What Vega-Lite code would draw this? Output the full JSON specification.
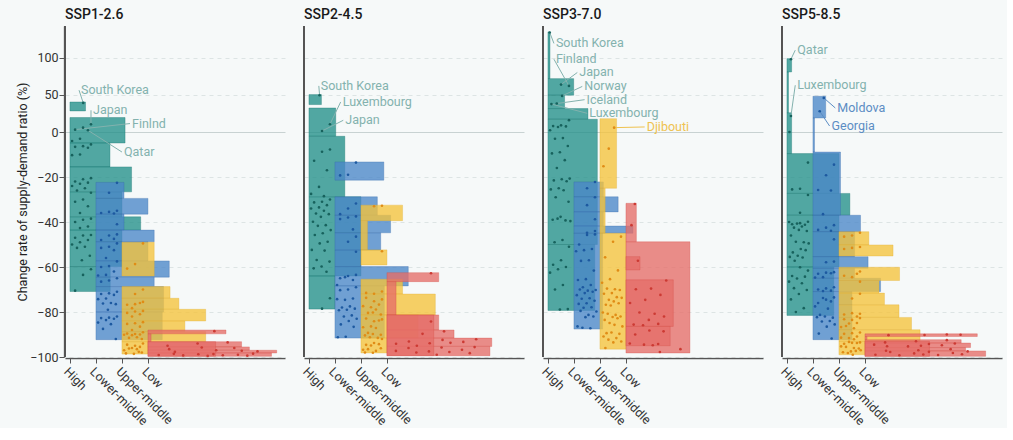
{
  "$schema": "https://vega.github.io/schema/vega-lite/v6.json",
  "background": "#f6f9f9",
  "padding": {"left": 16, "top": 8, "right": 5, "bottom": 0},
  "config": {"font": "Roboto", "view": {"stroke": null}},
  "data": {"values": [
    {"s":"SSP1-2.6","g":"High","b":1,"lo":28.4,"hi":40.5,"n":0.6},
    {"s":"SSP1-2.6","g":"High","b":2,"lo":-4.9,"hi":19.5,"n":2.12},
    {"s":"SSP1-2.6","g":"High","b":3,"lo":-15.5,"hi":-4.9,"n":1.54},
    {"s":"SSP1-2.6","g":"High","b":4,"lo":-26.6,"hi":-15.5,"n":2.37},
    {"s":"SSP1-2.6","g":"High","b":5,"lo":-37.7,"hi":-26.6,"n":2.0},
    {"s":"SSP1-2.6","g":"High","b":6,"lo":-43.6,"hi":-37.7,"n":2.72},
    {"s":"SSP1-2.6","g":"High","b":7,"lo":-59.8,"hi":-43.6,"n":2.0},
    {"s":"SSP1-2.6","g":"High","b":8,"lo":-70.9,"hi":-59.8,"n":1.55},
    {"s":"SSP1-2.6","g":"Lower-middle","b":1,"lo":-29.5,"hi":-22.4,"n":1.08},
    {"s":"SSP1-2.6","g":"Lower-middle","b":2,"lo":-36.5,"hi":-29.5,"n":2.0},
    {"s":"SSP1-2.6","g":"Lower-middle","b":3,"lo":-43.6,"hi":-36.5,"n":1.08},
    {"s":"SSP1-2.6","g":"Lower-middle","b":4,"lo":-48.8,"hi":-43.6,"n":2.24},
    {"s":"SSP1-2.6","g":"Lower-middle","b":5,"lo":-57.3,"hi":-48.8,"n":2.0},
    {"s":"SSP1-2.6","g":"Lower-middle","b":6,"lo":-64.5,"hi":-57.3,"n":2.82},
    {"s":"SSP1-2.6","g":"Lower-middle","b":7,"lo":-68.7,"hi":-64.5,"n":2.24},
    {"s":"SSP1-2.6","g":"Lower-middle","b":8,"lo":-80,"hi":-68.7,"n":2.6},
    {"s":"SSP1-2.6","g":"Lower-middle","b":9,"lo":-92.3,"hi":-80,"n":2.55},
    {"s":"SSP1-2.6","g":"Upper-middle","b":1,"lo":-64,"hi":-49,"n":1.24},
    {"s":"SSP1-2.6","g":"Upper-middle","b":2,"lo":-73.9,"hi":-68.7,"n":1.85},
    {"s":"SSP1-2.6","g":"Upper-middle","b":3,"lo":-78.8,"hi":-73.9,"n":2.19},
    {"s":"SSP1-2.6","g":"Upper-middle","b":4,"lo":-84,"hi":-78.8,"n":3.22},
    {"s":"SSP1-2.6","g":"Upper-middle","b":5,"lo":-88.7,"hi":-84,"n":2.42},
    {"s":"SSP1-2.6","g":"Upper-middle","b":6,"lo":-93.2,"hi":-88.7,"n":3.22},
    {"s":"SSP1-2.6","g":"Upper-middle","b":7,"lo":-98.7,"hi":-93.2,"n":1.0},
    {"s":"SSP1-2.6","g":"Low","b":1,"lo":-89.7,"hi":-88,"n":3.0},
    {"s":"SSP1-2.6","g":"Low","b":2,"lo":-93.2,"hi":-89.7,"n":0.12},
    {"s":"SSP1-2.6","g":"Low","b":3,"lo":-95.5,"hi":-93.2,"n":3.6},
    {"s":"SSP1-2.6","g":"Low","b":4,"lo":-97,"hi":-95.5,"n":3.9},
    {"s":"SSP1-2.6","g":"Low","b":5,"lo":-98.2,"hi":-97,"n":4.95},
    {"s":"SSP1-2.6","g":"Low","b":6,"lo":-99.7,"hi":-98.2,"n":4.75},
    {"s":"SSP1-2.6","g":"Low","b":7,"lo":-99.7,"hi":-93.2,"n":2.6},
    {"s":"SSP2-4.5","g":"High","b":1,"lo":37,"hi":50.5,"n":0.48},
    {"s":"SSP2-4.5","g":"High","b":2,"lo":-1.9,"hi":32.4,"n":1.03},
    {"s":"SSP2-4.5","g":"High","b":3,"lo":-28.8,"hi":-1.9,"n":1.38},
    {"s":"SSP2-4.5","g":"High","b":4,"lo":-64,"hi":-28.8,"n":2.0},
    {"s":"SSP2-4.5","g":"High","b":5,"lo":-78.7,"hi":-64,"n":1.0},
    {"s":"SSP2-4.5","g":"Lower-middle","b":1,"lo":-21.4,"hi":-13.3,"n":1.88},
    {"s":"SSP2-4.5","g":"Lower-middle","b":2,"lo":-37,"hi":-28.8,"n":1.63},
    {"s":"SSP2-4.5","g":"Lower-middle","b":3,"lo":-44.8,"hi":-37,"n":2.14},
    {"s":"SSP2-4.5","g":"Lower-middle","b":4,"lo":-52.5,"hi":-44.8,"n":1.76},
    {"s":"SSP2-4.5","g":"Lower-middle","b":5,"lo":-59.8,"hi":-52.5,"n":1.0},
    {"s":"SSP2-4.5","g":"Lower-middle","b":6,"lo":-68.4,"hi":-59.8,"n":2.82},
    {"s":"SSP2-4.5","g":"Lower-middle","b":7,"lo":-91.6,"hi":-68.4,"n":1.9},
    {"s":"SSP2-4.5","g":"Upper-middle","b":1,"lo":-39.4,"hi":-32.5,"n":1.6},
    {"s":"SSP2-4.5","g":"Upper-middle","b":2,"lo":-52.4,"hi":-39.4,"n":0.25},
    {"s":"SSP2-4.5","g":"Upper-middle","b":3,"lo":-59.1,"hi":-52.4,"n":1.0},
    {"s":"SSP2-4.5","g":"Upper-middle","b":4,"lo":-72,"hi":-65.4,"n":1.6},
    {"s":"SSP2-4.5","g":"Upper-middle","b":5,"lo":-81.3,"hi":-72,"n":2.86},
    {"s":"SSP2-4.5","g":"Upper-middle","b":6,"lo":-91.6,"hi":-81.3,"n":2.2},
    {"s":"SSP2-4.5","g":"Upper-middle","b":7,"lo":-98.2,"hi":-91.6,"n":1.0},
    {"s":"SSP2-4.5","g":"Low","b":1,"lo":-66.5,"hi":-62.5,"n":1.99},
    {"s":"SSP2-4.5","g":"Low","b":2,"lo":-81.3,"hi":-66.5,"n":0.35},
    {"s":"SSP2-4.5","g":"Low","b":3,"lo":-88,"hi":-81.3,"n":1.99},
    {"s":"SSP2-4.5","g":"Low","b":4,"lo":-91.6,"hi":-88,"n":2.58},
    {"s":"SSP2-4.5","g":"Low","b":5,"lo":-95.3,"hi":-91.6,"n":4.03},
    {"s":"SSP2-4.5","g":"Low","b":6,"lo":-99.4,"hi":-95.3,"n":3.96},
    {"s":"SSP2-4.5","g":"Low","b":7,"lo":-99.4,"hi":-81.3,"n":1.8},
    {"s":"SSP3-7.0","g":"High","b":1,"lo":72,"hi":135,"n":0.08},
    {"s":"SSP3-7.0","g":"High","b":2,"lo":49.6,"hi":72,"n":0.99},
    {"s":"SSP3-7.0","g":"High","b":3,"lo":31.6,"hi":49.6,"n":0.64},
    {"s":"SSP3-7.0","g":"High","b":4,"lo":17.2,"hi":31.6,"n":1.54},
    {"s":"SSP3-7.0","g":"High","b":5,"lo":-50,"hi":17.2,"n":1.9},
    {"s":"SSP3-7.0","g":"High","b":6,"lo":-79.3,"hi":-50,"n":1.8},
    {"s":"SSP3-7.0","g":"Lower-middle","b":1,"lo":-28.8,"hi":-22.2,"n":1.13},
    {"s":"SSP3-7.0","g":"Lower-middle","b":2,"lo":-35.5,"hi":-28.8,"n":1.7},
    {"s":"SSP3-7.0","g":"Lower-middle","b":3,"lo":-41.8,"hi":-35.5,"n":1.13},
    {"s":"SSP3-7.0","g":"Lower-middle","b":4,"lo":-45,"hi":-41.8,"n":2.27},
    {"s":"SSP3-7.0","g":"Lower-middle","b":5,"lo":-87.6,"hi":-45,"n":1.1},
    {"s":"SSP3-7.0","g":"Upper-middle","b":1,"lo":-25,"hi":18,"n":0.64},
    {"s":"SSP3-7.0","g":"Upper-middle","b":2,"lo":-45,"hi":-25,"n":0.2},
    {"s":"SSP3-7.0","g":"Upper-middle","b":3,"lo":-96.5,"hi":-45,"n":1.0},
    {"s":"SSP3-7.0","g":"Low","b":1,"lo":-48.8,"hi":-31.7,"n":0.4},
    {"s":"SSP3-7.0","g":"Low","b":2,"lo":-98.2,"hi":-48.8,"n":2.46},
    {"s":"SSP3-7.0","g":"Low","b":3,"lo":-61.3,"hi":-55.4,"n":0.54},
    {"s":"SSP3-7.0","g":"Low","b":4,"lo":-86.4,"hi":-65.7,"n":1.82},
    {"s":"SSP3-7.0","g":"Low","b":5,"lo":-95,"hi":-86.4,"n":1.7},
    {"s":"SSP5-8.5","g":"High","b":1,"lo":81,"hi":99,"n":0.18},
    {"s":"SSP5-8.5","g":"High","b":2,"lo":26,"hi":81,"n":0.06},
    {"s":"SSP5-8.5","g":"High","b":3,"lo":-9.6,"hi":26,"n":0.18},
    {"s":"SSP5-8.5","g":"High","b":4,"lo":-27.3,"hi":-9.6,"n":2.0},
    {"s":"SSP5-8.5","g":"High","b":5,"lo":-37,"hi":-27.3,"n":2.42},
    {"s":"SSP5-8.5","g":"High","b":6,"lo":-60,"hi":-37,"n":2.0},
    {"s":"SSP5-8.5","g":"High","b":7,"lo":-81.5,"hi":-60,"n":1.8},
    {"s":"SSP5-8.5","g":"Lower-middle","b":1,"lo":18.9,"hi":48.2,"n":0.49},
    {"s":"SSP5-8.5","g":"Lower-middle","b":2,"lo":-8.9,"hi":18.9,"n":0.06},
    {"s":"SSP5-8.5","g":"Lower-middle","b":3,"lo":-37,"hi":-8.9,"n":1.06},
    {"s":"SSP5-8.5","g":"Lower-middle","b":4,"lo":-44.3,"hi":-37,"n":1.83},
    {"s":"SSP5-8.5","g":"Lower-middle","b":5,"lo":-55.4,"hi":-44.3,"n":1.6},
    {"s":"SSP5-8.5","g":"Lower-middle","b":6,"lo":-60.6,"hi":-55.4,"n":2.12},
    {"s":"SSP5-8.5","g":"Lower-middle","b":7,"lo":-65,"hi":-60.6,"n":1.6},
    {"s":"SSP5-8.5","g":"Lower-middle","b":8,"lo":-70.9,"hi":-65,"n":2.6},
    {"s":"SSP5-8.5","g":"Lower-middle","b":9,"lo":-92.3,"hi":-70.9,"n":1.5},
    {"s":"SSP5-8.5","g":"Upper-middle","b":1,"lo":-50.2,"hi":-44.3,"n":1.15},
    {"s":"SSP5-8.5","g":"Upper-middle","b":2,"lo":-55.1,"hi":-50.2,"n":2.08},
    {"s":"SSP5-8.5","g":"Upper-middle","b":3,"lo":-66,"hi":-60.1,"n":2.33},
    {"s":"SSP5-8.5","g":"Upper-middle","b":4,"lo":-71.6,"hi":-66,"n":1.54},
    {"s":"SSP5-8.5","g":"Upper-middle","b":5,"lo":-76.8,"hi":-71.6,"n":1.75},
    {"s":"SSP5-8.5","g":"Upper-middle","b":6,"lo":-82.4,"hi":-76.8,"n":2.31},
    {"s":"SSP5-8.5","g":"Upper-middle","b":7,"lo":-87.9,"hi":-82.4,"n":2.79},
    {"s":"SSP5-8.5","g":"Upper-middle","b":8,"lo":-93.1,"hi":-87.9,"n":3.12},
    {"s":"SSP5-8.5","g":"Upper-middle","b":9,"lo":-99,"hi":-93.1,"n":1.0},
    {"s":"SSP5-8.5","g":"Low","b":1,"lo":-90.9,"hi":-89.7,"n":4.32},
    {"s":"SSP5-8.5","g":"Low","b":2,"lo":-92.3,"hi":-90.9,"n":0.08},
    {"s":"SSP5-8.5","g":"Low","b":3,"lo":-93.8,"hi":-92.3,"n":3.7},
    {"s":"SSP5-8.5","g":"Low","b":4,"lo":-95.8,"hi":-93.8,"n":4.06},
    {"s":"SSP5-8.5","g":"Low","b":5,"lo":-97.3,"hi":-95.8,"n":3.87},
    {"s":"SSP5-8.5","g":"Low","b":6,"lo":-99.7,"hi":-97.3,"n":4.64},
    {"s":"SSP5-8.5","g":"Low","b":7,"lo":-99.7,"hi":-93,"n":2.48},

    {"s":"SSP1-2.6","g":"High","b":1,"v":39.2,"c":"South Korea","lx":0.35,"lv":56.4},
    {"s":"SSP1-2.6","g":"High","b":2,"v":10.3,"c":"Japan","lx":0.81,"lv":29.3},
    {"s":"SSP1-2.6","g":"High","b":2,"v":5.9},
    {"s":"SSP1-2.6","g":"High","b":2,"v":3.2,"c":"Finlnd","lx":2.31,"lv":11.4},
    {"s":"SSP1-2.6","g":"High","b":2,"v":2.3,"c":"Qatar","lx":2.0,"lv":-8.9},
    {"s":"SSP1-2.6","g":"High","b":2,"v":-3},
    {"s":"SSP1-2.6","g":"High","b":2,"v":-4},
    {"s":"SSP1-2.6","g":"High","b":3,"v":-5.5},
    {"s":"SSP1-2.6","g":"High","b":3,"v":-6.3},
    {"s":"SSP1-2.6","g":"High","b":3,"v":-6.6},
    {"s":"SSP1-2.6","g":"High","b":3,"v":-7},
    {"s":"SSP1-2.6","g":"High","b":3,"v":-10},
    {"s":"SSP1-2.6","g":"High","b":3,"v":-10.3},
    {"s":"SSP1-2.6","g":"High","b":4,"v":-20.5},
    {"s":"SSP1-2.6","g":"High","b":4,"v":-21},
    {"s":"SSP1-2.6","g":"High","b":4,"v":-22},
    {"s":"SSP1-2.6","g":"High","b":4,"v":-22.5},
    {"s":"SSP1-2.6","g":"High","b":4,"v":-23},
    {"s":"SSP1-2.6","g":"High","b":4,"v":-24},
    {"s":"SSP1-2.6","g":"High","b":4,"v":-25},
    {"s":"SSP1-2.6","g":"High","b":4,"v":-26},
    {"s":"SSP1-2.6","g":"High","b":5,"v":-27},
    {"s":"SSP1-2.6","g":"High","b":5,"v":-30},
    {"s":"SSP1-2.6","g":"High","b":5,"v":-31},
    {"s":"SSP1-2.6","g":"High","b":5,"v":-33},
    {"s":"SSP1-2.6","g":"High","b":5,"v":-36},
    {"s":"SSP1-2.6","g":"High","b":6,"v":-38.5},
    {"s":"SSP1-2.6","g":"High","b":6,"v":-39},
    {"s":"SSP1-2.6","g":"High","b":6,"v":-40},
    {"s":"SSP1-2.6","g":"High","b":6,"v":-42},
    {"s":"SSP1-2.6","g":"High","b":6,"v":-42.7},
    {"s":"SSP1-2.6","g":"High","b":7,"v":-45.8},
    {"s":"SSP1-2.6","g":"High","b":7,"v":-46},
    {"s":"SSP1-2.6","g":"High","b":7,"v":-47},
    {"s":"SSP1-2.6","g":"High","b":7,"v":-48},
    {"s":"SSP1-2.6","g":"High","b":7,"v":-49},
    {"s":"SSP1-2.6","g":"High","b":7,"v":-50},
    {"s":"SSP1-2.6","g":"High","b":7,"v":-51},
    {"s":"SSP1-2.6","g":"High","b":7,"v":-51.5},
    {"s":"SSP1-2.6","g":"High","b":7,"v":-55},
    {"s":"SSP1-2.6","g":"High","b":7,"v":-57},
    {"s":"SSP1-2.6","g":"High","b":8,"v":-61},
    {"s":"SSP1-2.6","g":"High","b":8,"v":-63.5},
    {"s":"SSP1-2.6","g":"High","b":8,"v":-70.5},
    {"s":"SSP1-2.6","g":"Lower-middle","b":1,"v":-22.6},
    {"s":"SSP1-2.6","g":"Lower-middle","b":1,"v":-27},
    {"s":"SSP1-2.6","g":"Lower-middle","b":2,"v":-35},
    {"s":"SSP1-2.6","g":"Lower-middle","b":2,"v":-35.5},
    {"s":"SSP1-2.6","g":"Lower-middle","b":2,"v":-36},
    {"s":"SSP1-2.6","g":"Lower-middle","b":2,"v":-36.2},
    {"s":"SSP1-2.6","g":"Lower-middle","b":3,"v":-41},
    {"s":"SSP1-2.6","g":"Lower-middle","b":4,"v":-45.5},
    {"s":"SSP1-2.6","g":"Lower-middle","b":4,"v":-46},
    {"s":"SSP1-2.6","g":"Lower-middle","b":4,"v":-48},
    {"s":"SSP1-2.6","g":"Lower-middle","b":4,"v":-47.5},
    {"s":"SSP1-2.6","g":"Lower-middle","b":5,"v":-49.5},
    {"s":"SSP1-2.6","g":"Lower-middle","b":5,"v":-51},
    {"s":"SSP1-2.6","g":"Lower-middle","b":5,"v":-51.5},
    {"s":"SSP1-2.6","g":"Lower-middle","b":5,"v":-52.5},
    {"s":"SSP1-2.6","g":"Lower-middle","b":5,"v":-56},
    {"s":"SSP1-2.6","g":"Lower-middle","b":6,"v":-57.5},
    {"s":"SSP1-2.6","g":"Lower-middle","b":6,"v":-59.6},
    {"s":"SSP1-2.6","g":"Lower-middle","b":6,"v":-60},
    {"s":"SSP1-2.6","g":"Lower-middle","b":6,"v":-62},
    {"s":"SSP1-2.6","g":"Lower-middle","b":6,"v":-63.5},
    {"s":"SSP1-2.6","g":"Lower-middle","b":6,"v":-63.8},
    {"s":"SSP1-2.6","g":"Lower-middle","b":7,"v":-65},
    {"s":"SSP1-2.6","g":"Lower-middle","b":7,"v":-66},
    {"s":"SSP1-2.6","g":"Lower-middle","b":7,"v":-66.5},
    {"s":"SSP1-2.6","g":"Lower-middle","b":8,"v":-71},
    {"s":"SSP1-2.6","g":"Lower-middle","b":8,"v":-71.7},
    {"s":"SSP1-2.6","g":"Lower-middle","b":8,"v":-72},
    {"s":"SSP1-2.6","g":"Lower-middle","b":8,"v":-72.4},
    {"s":"SSP1-2.6","g":"Lower-middle","b":8,"v":-74},
    {"s":"SSP1-2.6","g":"Lower-middle","b":8,"v":-74.3},
    {"s":"SSP1-2.6","g":"Lower-middle","b":8,"v":-76},
    {"s":"SSP1-2.6","g":"Lower-middle","b":8,"v":-76.2},
    {"s":"SSP1-2.6","g":"Lower-middle","b":8,"v":-76.5},
    {"s":"SSP1-2.6","g":"Lower-middle","b":8,"v":-79},
    {"s":"SSP1-2.6","g":"Lower-middle","b":9,"v":-82},
    {"s":"SSP1-2.6","g":"Lower-middle","b":9,"v":-82.5},
    {"s":"SSP1-2.6","g":"Lower-middle","b":9,"v":-82.7},
    {"s":"SSP1-2.6","g":"Lower-middle","b":9,"v":-83},
    {"s":"SSP1-2.6","g":"Lower-middle","b":9,"v":-83.6},
    {"s":"SSP1-2.6","g":"Lower-middle","b":9,"v":-84.7},
    {"s":"SSP1-2.6","g":"Lower-middle","b":9,"v":-85.4},
    {"s":"SSP1-2.6","g":"Lower-middle","b":9,"v":-87.5},
    {"s":"SSP1-2.6","g":"Lower-middle","b":9,"v":-92},
    {"s":"SSP1-2.6","g":"Upper-middle","b":1,"v":-49.5},
    {"s":"SSP1-2.6","g":"Upper-middle","b":1,"v":-58.7},
    {"s":"SSP1-2.6","g":"Upper-middle","b":1,"v":-60.7},
    {"s":"SSP1-2.6","g":"Upper-middle","b":2,"v":-70},
    {"s":"SSP1-2.6","g":"Upper-middle","b":2,"v":-72},
    {"s":"SSP1-2.6","g":"Upper-middle","b":3,"v":-75.5},
    {"s":"SSP1-2.6","g":"Upper-middle","b":3,"v":-76.5},
    {"s":"SSP1-2.6","g":"Upper-middle","b":3,"v":-76.8},
    {"s":"SSP1-2.6","g":"Upper-middle","b":3,"v":-76},
    {"s":"SSP1-2.6","g":"Upper-middle","b":3,"v":-78.3},
    {"s":"SSP1-2.6","g":"Upper-middle","b":4,"v":-79.5},
    {"s":"SSP1-2.6","g":"Upper-middle","b":4,"v":-79.8},
    {"s":"SSP1-2.6","g":"Upper-middle","b":4,"v":-80.4},
    {"s":"SSP1-2.6","g":"Upper-middle","b":4,"v":-81},
    {"s":"SSP1-2.6","g":"Upper-middle","b":4,"v":-82},
    {"s":"SSP1-2.6","g":"Upper-middle","b":5,"v":-84.5},
    {"s":"SSP1-2.6","g":"Upper-middle","b":5,"v":-85},
    {"s":"SSP1-2.6","g":"Upper-middle","b":5,"v":-85.3},
    {"s":"SSP1-2.6","g":"Upper-middle","b":5,"v":-86.5},
    {"s":"SSP1-2.6","g":"Upper-middle","b":5,"v":-88},
    {"s":"SSP1-2.6","g":"Upper-middle","b":6,"v":-89},
    {"s":"SSP1-2.6","g":"Upper-middle","b":6,"v":-89.8},
    {"s":"SSP1-2.6","g":"Upper-middle","b":6,"v":-89.6},
    {"s":"SSP1-2.6","g":"Upper-middle","b":6,"v":-90},
    {"s":"SSP1-2.6","g":"Upper-middle","b":6,"v":-90.3},
    {"s":"SSP1-2.6","g":"Upper-middle","b":6,"v":-90.1},
    {"s":"SSP1-2.6","g":"Upper-middle","b":6,"v":-91.2},
    {"s":"SSP1-2.6","g":"Upper-middle","b":6,"v":-91.5},
    {"s":"SSP1-2.6","g":"Upper-middle","b":6,"v":-92},
    {"s":"SSP1-2.6","g":"Upper-middle","b":7,"v":-94},
    {"s":"SSP1-2.6","g":"Upper-middle","b":7,"v":-95},
    {"s":"SSP1-2.6","g":"Upper-middle","b":7,"v":-94.5},
    {"s":"SSP1-2.6","g":"Upper-middle","b":7,"v":-95.5},
    {"s":"SSP1-2.6","g":"Upper-middle","b":7,"v":-96},
    {"s":"SSP1-2.6","g":"Upper-middle","b":7,"v":-97},
    {"s":"SSP1-2.6","g":"Upper-middle","b":7,"v":-96.5},
    {"s":"SSP1-2.6","g":"Upper-middle","b":7,"v":-96.2},
    {"s":"SSP1-2.6","g":"Upper-middle","b":7,"v":-98},
    {"s":"SSP1-2.6","g":"Upper-middle","b":7,"v":-98.6},
    {"s":"SSP1-2.6","g":"Upper-middle","b":7,"v":-98.4},
    {"s":"SSP1-2.6","g":"Upper-middle","b":7,"v":-97.7},
    {"s":"SSP1-2.6","g":"Low","b":1,"v":-88.5},
    {"s":"SSP1-2.6","g":"Low","b":3,"v":-93.5},
    {"s":"SSP1-2.6","g":"Low","b":3,"v":-94},
    {"s":"SSP1-2.6","g":"Low","b":3,"v":-95},
    {"s":"SSP1-2.6","g":"Low","b":4,"v":-96},
    {"s":"SSP1-2.6","g":"Low","b":4,"v":-95.8},
    {"s":"SSP1-2.6","g":"Low","b":4,"v":-96.5},
    {"s":"SSP1-2.6","g":"Low","b":5,"v":-97.5},
    {"s":"SSP1-2.6","g":"Low","b":5,"v":-97},
    {"s":"SSP1-2.6","g":"Low","b":5,"v":-97.7},
    {"s":"SSP1-2.6","g":"Low","b":5,"v":-97.2},
    {"s":"SSP1-2.6","g":"Low","b":6,"v":-98.5},
    {"s":"SSP1-2.6","g":"Low","b":6,"v":-98.7},
    {"s":"SSP1-2.6","g":"Low","b":6,"v":-98.6},
    {"s":"SSP1-2.6","g":"Low","b":6,"v":-99},
    {"s":"SSP1-2.6","g":"Low","b":6,"v":-98.8},
    {"s":"SSP1-2.6","g":"Low","b":6,"v":-99.1},
    {"s":"SSP1-2.6","g":"Low","b":6,"v":-99.2},
    {"s":"SSP1-2.6","g":"Low","b":6,"v":-99.3},
    {"s":"SSP1-2.6","g":"Low","b":6,"v":-99.4},
    {"s":"SSP1-2.6","g":"Low","b":6,"v":-99.5},

    {"s":"SSP2-4.5","g":"High","b":1,"v":49.6,"c":"South Korea","lx":0.38,"lv":62.2},
    {"s":"SSP2-4.5","g":"High","b":2,"v":10.4,"c":"Luxembourg","lx":1.22,"lv":40.5},
    {"s":"SSP2-4.5","g":"High","b":2,"v":1.4,"c":"Japan","lx":1.32,"lv":15.8},
    {"s":"SSP2-4.5","g":"High","b":3,"v":-7.8},
    {"s":"SSP2-4.5","g":"High","b":3,"v":-8.8},
    {"s":"SSP2-4.5","g":"High","b":3,"v":-12.8},
    {"s":"SSP2-4.5","g":"High","b":3,"v":-17},
    {"s":"SSP2-4.5","g":"High","b":3,"v":-24.4},
    {"s":"SSP2-4.5","g":"High","b":3,"v":-27.5},
    {"s":"SSP2-4.5","g":"High","b":3,"v":-28.5},
    {"s":"SSP2-4.5","g":"High","b":4,"v":-30},
    {"s":"SSP2-4.5","g":"High","b":4,"v":-31},
    {"s":"SSP2-4.5","g":"High","b":4,"v":-31.3},
    {"s":"SSP2-4.5","g":"High","b":4,"v":-32.5},
    {"s":"SSP2-4.5","g":"High","b":4,"v":-33.5},
    {"s":"SSP2-4.5","g":"High","b":4,"v":-34},
    {"s":"SSP2-4.5","g":"High","b":4,"v":-35},
    {"s":"SSP2-4.5","g":"High","b":4,"v":-36.2},
    {"s":"SSP2-4.5","g":"High","b":4,"v":-36.5},
    {"s":"SSP2-4.5","g":"High","b":4,"v":-37.7},
    {"s":"SSP2-4.5","g":"High","b":4,"v":-39.9},
    {"s":"SSP2-4.5","g":"High","b":4,"v":-41.4},
    {"s":"SSP2-4.5","g":"High","b":4,"v":-41.7},
    {"s":"SSP2-4.5","g":"High","b":4,"v":-43.6},
    {"s":"SSP2-4.5","g":"High","b":4,"v":-45},
    {"s":"SSP2-4.5","g":"High","b":4,"v":-45.8},
    {"s":"SSP2-4.5","g":"High","b":4,"v":-48.8},
    {"s":"SSP2-4.5","g":"High","b":4,"v":-49.5},
    {"s":"SSP2-4.5","g":"High","b":4,"v":-52.4},
    {"s":"SSP2-4.5","g":"High","b":4,"v":-52.7},
    {"s":"SSP2-4.5","g":"High","b":4,"v":-56.9},
    {"s":"SSP2-4.5","g":"High","b":4,"v":-57.6},
    {"s":"SSP2-4.5","g":"High","b":4,"v":-59.8},
    {"s":"SSP2-4.5","g":"High","b":4,"v":-60.6},
    {"s":"SSP2-4.5","g":"High","b":4,"v":-62.1},
    {"s":"SSP2-4.5","g":"High","b":5,"v":-73.9},
    {"s":"SSP2-4.5","g":"High","b":5,"v":-78.5},
    {"s":"SSP2-4.5","g":"Lower-middle","b":1,"v":-13.6},
    {"s":"SSP2-4.5","g":"Lower-middle","b":1,"v":-19},
    {"s":"SSP2-4.5","g":"Lower-middle","b":1,"v":-19.3},
    {"s":"SSP2-4.5","g":"Lower-middle","b":2,"v":-31.8},
    {"s":"SSP2-4.5","g":"Lower-middle","b":2,"v":-34},
    {"s":"SSP2-4.5","g":"Lower-middle","b":2,"v":-36.5},
    {"s":"SSP2-4.5","g":"Lower-middle","b":3,"v":-37.5},
    {"s":"SSP2-4.5","g":"Lower-middle","b":3,"v":-38},
    {"s":"SSP2-4.5","g":"Lower-middle","b":3,"v":-38.7},
    {"s":"SSP2-4.5","g":"Lower-middle","b":3,"v":-43.3},
    {"s":"SSP2-4.5","g":"Lower-middle","b":4,"v":-46.5},
    {"s":"SSP2-4.5","g":"Lower-middle","b":4,"v":-48.8},
    {"s":"SSP2-4.5","g":"Lower-middle","b":5,"v":-53.2},
    {"s":"SSP2-4.5","g":"Lower-middle","b":6,"v":-63.5},
    {"s":"SSP2-4.5","g":"Lower-middle","b":6,"v":-64},
    {"s":"SSP2-4.5","g":"Lower-middle","b":6,"v":-65},
    {"s":"SSP2-4.5","g":"Lower-middle","b":6,"v":-65.8},
    {"s":"SSP2-4.5","g":"Lower-middle","b":6,"v":-64.5},
    {"s":"SSP2-4.5","g":"Lower-middle","b":6,"v":-68},
    {"s":"SSP2-4.5","g":"Lower-middle","b":7,"v":-69},
    {"s":"SSP2-4.5","g":"Lower-middle","b":7,"v":-70},
    {"s":"SSP2-4.5","g":"Lower-middle","b":7,"v":-70.3},
    {"s":"SSP2-4.5","g":"Lower-middle","b":7,"v":-74},
    {"s":"SSP2-4.5","g":"Lower-middle","b":7,"v":-74.6},
    {"s":"SSP2-4.5","g":"Lower-middle","b":7,"v":-74.3},
    {"s":"SSP2-4.5","g":"Lower-middle","b":7,"v":-77.5},
    {"s":"SSP2-4.5","g":"Lower-middle","b":7,"v":-78},
    {"s":"SSP2-4.5","g":"Lower-middle","b":7,"v":-78.5},
    {"s":"SSP2-4.5","g":"Lower-middle","b":7,"v":-79},
    {"s":"SSP2-4.5","g":"Lower-middle","b":7,"v":-79.2},
    {"s":"SSP2-4.5","g":"Lower-middle","b":7,"v":-81.5},
    {"s":"SSP2-4.5","g":"Lower-middle","b":7,"v":-82},
    {"s":"SSP2-4.5","g":"Lower-middle","b":7,"v":-83},
    {"s":"SSP2-4.5","g":"Lower-middle","b":7,"v":-84},
    {"s":"SSP2-4.5","g":"Lower-middle","b":7,"v":-85.5},
    {"s":"SSP2-4.5","g":"Lower-middle","b":7,"v":-86.6},
    {"s":"SSP2-4.5","g":"Lower-middle","b":7,"v":-91},
    {"s":"SSP2-4.5","g":"Lower-middle","b":7,"v":-91.2},
    {"s":"SSP2-4.5","g":"Upper-middle","b":1,"v":-32.8},
    {"s":"SSP2-4.5","g":"Upper-middle","b":1,"v":-33},
    {"s":"SSP2-4.5","g":"Upper-middle","b":3,"v":-53},
    {"s":"SSP2-4.5","g":"Upper-middle","b":4,"v":-70.9},
    {"s":"SSP2-4.5","g":"Upper-middle","b":4,"v":-71.9},
    {"s":"SSP2-4.5","g":"Upper-middle","b":4,"v":-71.5},
    {"s":"SSP2-4.5","g":"Upper-middle","b":5,"v":-74.4},
    {"s":"SSP2-4.5","g":"Upper-middle","b":5,"v":-75.2},
    {"s":"SSP2-4.5","g":"Upper-middle","b":5,"v":-73.7},
    {"s":"SSP2-4.5","g":"Upper-middle","b":5,"v":-76.7},
    {"s":"SSP2-4.5","g":"Upper-middle","b":5,"v":-77.9},
    {"s":"SSP2-4.5","g":"Upper-middle","b":5,"v":-77.4},
    {"s":"SSP2-4.5","g":"Upper-middle","b":5,"v":-78.9},
    {"s":"SSP2-4.5","g":"Upper-middle","b":5,"v":-80.4},
    {"s":"SSP2-4.5","g":"Upper-middle","b":5,"v":-81.1},
    {"s":"SSP2-4.5","g":"Upper-middle","b":5,"v":-80.2},
    {"s":"SSP2-4.5","g":"Upper-middle","b":6,"v":-83.3},
    {"s":"SSP2-4.5","g":"Upper-middle","b":6,"v":-84.1},
    {"s":"SSP2-4.5","g":"Upper-middle","b":6,"v":-82.9},
    {"s":"SSP2-4.5","g":"Upper-middle","b":6,"v":-83.8},
    {"s":"SSP2-4.5","g":"Upper-middle","b":6,"v":-86.4},
    {"s":"SSP2-4.5","g":"Upper-middle","b":6,"v":-86.8},
    {"s":"SSP2-4.5","g":"Upper-middle","b":6,"v":-87.1},
    {"s":"SSP2-4.5","g":"Upper-middle","b":6,"v":-89.3},
    {"s":"SSP2-4.5","g":"Upper-middle","b":6,"v":-90.1},
    {"s":"SSP2-4.5","g":"Upper-middle","b":6,"v":-89.8},
    {"s":"SSP2-4.5","g":"Upper-middle","b":6,"v":-90.4},
    {"s":"SSP2-4.5","g":"Upper-middle","b":6,"v":-91.5},
    {"s":"SSP2-4.5","g":"Upper-middle","b":6,"v":-91.2},
    {"s":"SSP2-4.5","g":"Upper-middle","b":7,"v":-92},
    {"s":"SSP2-4.5","g":"Upper-middle","b":7,"v":-93.8},
    {"s":"SSP2-4.5","g":"Upper-middle","b":7,"v":-94.6},
    {"s":"SSP2-4.5","g":"Upper-middle","b":7,"v":-94.3},
    {"s":"SSP2-4.5","g":"Upper-middle","b":7,"v":-94.9},
    {"s":"SSP2-4.5","g":"Upper-middle","b":7,"v":-96.8},
    {"s":"SSP2-4.5","g":"Upper-middle","b":7,"v":-97.3},
    {"s":"SSP2-4.5","g":"Upper-middle","b":7,"v":-96.5},
    {"s":"SSP2-4.5","g":"Upper-middle","b":7,"v":-96.1},
    {"s":"SSP2-4.5","g":"Upper-middle","b":7,"v":-98.1},
    {"s":"SSP2-4.5","g":"Upper-middle","b":7,"v":-98},
    {"s":"SSP2-4.5","g":"Low","b":1,"v":-62.8},
    {"s":"SSP2-4.5","g":"Low","b":3,"v":-84.2},
    {"s":"SSP2-4.5","g":"Low","b":4,"v":-88.6},
    {"s":"SSP2-4.5","g":"Low","b":4,"v":-89.7},
    {"s":"SSP2-4.5","g":"Low","b":5,"v":-92.1},
    {"s":"SSP2-4.5","g":"Low","b":5,"v":-92.4},
    {"s":"SSP2-4.5","g":"Low","b":5,"v":-93.1},
    {"s":"SSP2-4.5","g":"Low","b":5,"v":-93.3},
    {"s":"SSP2-4.5","g":"Low","b":5,"v":-93.9},
    {"s":"SSP2-4.5","g":"Low","b":5,"v":-94.1},
    {"s":"SSP2-4.5","g":"Low","b":5,"v":-93.7},
    {"s":"SSP2-4.5","g":"Low","b":5,"v":-95},
    {"s":"SSP2-4.5","g":"Low","b":6,"v":-95.6},
    {"s":"SSP2-4.5","g":"Low","b":6,"v":-95.8},
    {"s":"SSP2-4.5","g":"Low","b":6,"v":-96},
    {"s":"SSP2-4.5","g":"Low","b":6,"v":-96.8},
    {"s":"SSP2-4.5","g":"Low","b":6,"v":-97.5},
    {"s":"SSP2-4.5","g":"Low","b":6,"v":-97.3},
    {"s":"SSP2-4.5","g":"Low","b":6,"v":-97.8},
    {"s":"SSP2-4.5","g":"Low","b":6,"v":-98},
    {"s":"SSP2-4.5","g":"Low","b":6,"v":-98.3},
    {"s":"SSP2-4.5","g":"Low","b":6,"v":-99},

    {"s":"SSP3-7.0","g":"High","b":1,"v":134.3,"c":"South Korea","lx":0.23,"lv":119.5},
    {"s":"SSP3-7.0","g":"High","b":2,"v":62.2,"c":"Finland","lx":0.23,"lv":98.2},
    {"s":"SSP3-7.0","g":"High","b":2,"v":64,"c":"Japan","lx":1.13,"lv":80.3},
    {"s":"SSP3-7.0","g":"High","b":3,"v":48.7,"c":"Norway","lx":1.32,"lv":61.5},
    {"s":"SSP3-7.0","g":"High","b":3,"v":38.4,"c":"Iceland","lx":1.41,"lv":43.6},
    {"s":"SSP3-7.0","g":"High","b":3,"v":37.7,"c":"Luxembourg","lx":1.51,"lv":25.2},
    {"s":"SSP3-7.0","g":"High","b":5,"v":16},
    {"s":"SSP3-7.0","g":"High","b":5,"v":9},
    {"s":"SSP3-7.0","g":"High","b":5,"v":8},
    {"s":"SSP3-7.0","g":"High","b":5,"v":7.5},
    {"s":"SSP3-7.0","g":"High","b":5,"v":6.8},
    {"s":"SSP3-7.0","g":"High","b":5,"v":2.3},
    {"s":"SSP3-7.0","g":"High","b":5,"v":-2.7},
    {"s":"SSP3-7.0","g":"High","b":5,"v":-3},
    {"s":"SSP3-7.0","g":"High","b":5,"v":-6.2},
    {"s":"SSP3-7.0","g":"High","b":5,"v":-9},
    {"s":"SSP3-7.0","g":"High","b":5,"v":-9.5},
    {"s":"SSP3-7.0","g":"High","b":5,"v":-12.5},
    {"s":"SSP3-7.0","g":"High","b":5,"v":-16},
    {"s":"SSP3-7.0","g":"High","b":5,"v":-20.7},
    {"s":"SSP3-7.0","g":"High","b":5,"v":-21},
    {"s":"SSP3-7.0","g":"High","b":5,"v":-21.5},
    {"s":"SSP3-7.0","g":"High","b":5,"v":-21.9},
    {"s":"SSP3-7.0","g":"High","b":5,"v":-25},
    {"s":"SSP3-7.0","g":"High","b":5,"v":-25.5},
    {"s":"SSP3-7.0","g":"High","b":5,"v":-25.9},
    {"s":"SSP3-7.0","g":"High","b":5,"v":-29},
    {"s":"SSP3-7.0","g":"High","b":5,"v":-31},
    {"s":"SSP3-7.0","g":"High","b":5,"v":-37.7},
    {"s":"SSP3-7.0","g":"High","b":5,"v":-39},
    {"s":"SSP3-7.0","g":"High","b":5,"v":-39.3},
    {"s":"SSP3-7.0","g":"High","b":5,"v":-38.5},
    {"s":"SSP3-7.0","g":"High","b":5,"v":-39.6},
    {"s":"SSP3-7.0","g":"High","b":5,"v":-48},
    {"s":"SSP3-7.0","g":"High","b":5,"v":-49},
    {"s":"SSP3-7.0","g":"High","b":6,"v":-51},
    {"s":"SSP3-7.0","g":"High","b":6,"v":-57},
    {"s":"SSP3-7.0","g":"High","b":6,"v":-59},
    {"s":"SSP3-7.0","g":"High","b":6,"v":-60},
    {"s":"SSP3-7.0","g":"High","b":6,"v":-61},
    {"s":"SSP3-7.0","g":"High","b":6,"v":-62.5},
    {"s":"SSP3-7.0","g":"High","b":6,"v":-68},
    {"s":"SSP3-7.0","g":"High","b":6,"v":-70},
    {"s":"SSP3-7.0","g":"High","b":6,"v":-78.7},
    {"s":"SSP3-7.0","g":"High","b":6,"v":-78.9},
    {"s":"SSP3-7.0","g":"Lower-middle","b":1,"v":-22.2},
    {"s":"SSP3-7.0","g":"Lower-middle","b":1,"v":-25},
    {"s":"SSP3-7.0","g":"Lower-middle","b":2,"v":-29},
    {"s":"SSP3-7.0","g":"Lower-middle","b":2,"v":-32.5},
    {"s":"SSP3-7.0","g":"Lower-middle","b":3,"v":-38.8},
    {"s":"SSP3-7.0","g":"Lower-middle","b":4,"v":-44},
    {"s":"SSP3-7.0","g":"Lower-middle","b":4,"v":-44.8},
    {"s":"SSP3-7.0","g":"Lower-middle","b":5,"v":-45.5},
    {"s":"SSP3-7.0","g":"Lower-middle","b":5,"v":-45.8},
    {"s":"SSP3-7.0","g":"Lower-middle","b":5,"v":-50},
    {"s":"SSP3-7.0","g":"Lower-middle","b":5,"v":-52},
    {"s":"SSP3-7.0","g":"Lower-middle","b":5,"v":-52.5},
    {"s":"SSP3-7.0","g":"Lower-middle","b":5,"v":-53},
    {"s":"SSP3-7.0","g":"Lower-middle","b":5,"v":-57},
    {"s":"SSP3-7.0","g":"Lower-middle","b":5,"v":-57.3},
    {"s":"SSP3-7.0","g":"Lower-middle","b":5,"v":-61.6},
    {"s":"SSP3-7.0","g":"Lower-middle","b":5,"v":-65.4},
    {"s":"SSP3-7.0","g":"Lower-middle","b":5,"v":-65.8},
    {"s":"SSP3-7.0","g":"Lower-middle","b":5,"v":-68},
    {"s":"SSP3-7.0","g":"Lower-middle","b":5,"v":-69},
    {"s":"SSP3-7.0","g":"Lower-middle","b":5,"v":-70.2},
    {"s":"SSP3-7.0","g":"Lower-middle","b":5,"v":-70.5},
    {"s":"SSP3-7.0","g":"Lower-middle","b":5,"v":-70.0},
    {"s":"SSP3-7.0","g":"Lower-middle","b":5,"v":-71},
    {"s":"SSP3-7.0","g":"Lower-middle","b":5,"v":-71.6},
    {"s":"SSP3-7.0","g":"Lower-middle","b":5,"v":-72.5},
    {"s":"SSP3-7.0","g":"Lower-middle","b":5,"v":-73.9},
    {"s":"SSP3-7.0","g":"Lower-middle","b":5,"v":-74.1},
    {"s":"SSP3-7.0","g":"Lower-middle","b":5,"v":-75},
    {"s":"SSP3-7.0","g":"Lower-middle","b":5,"v":-76.1},
    {"s":"SSP3-7.0","g":"Lower-middle","b":5,"v":-76.4},
    {"s":"SSP3-7.0","g":"Lower-middle","b":5,"v":-77.9},
    {"s":"SSP3-7.0","g":"Lower-middle","b":5,"v":-78.1},
    {"s":"SSP3-7.0","g":"Lower-middle","b":5,"v":-79.8},
    {"s":"SSP3-7.0","g":"Lower-middle","b":5,"v":-81.3},
    {"s":"SSP3-7.0","g":"Lower-middle","b":5,"v":-79.5},
    {"s":"SSP3-7.0","g":"Lower-middle","b":5,"v":-82},
    {"s":"SSP3-7.0","g":"Lower-middle","b":5,"v":-82.3},
    {"s":"SSP3-7.0","g":"Lower-middle","b":5,"v":-86.4},
    {"s":"SSP3-7.0","g":"Lower-middle","b":5,"v":-87.2},
    {"s":"SSP3-7.0","g":"Lower-middle","b":5,"v":-87},
    {"s":"SSP3-7.0","g":"Upper-middle","b":1,"v":5.9,"c":"Djibouti","lx":3.72,"lv":6.8},
    {"s":"SSP3-7.0","g":"Upper-middle","b":1,"v":-7.4},
    {"s":"SSP3-7.0","g":"Upper-middle","b":1,"v":-15.2},
    {"s":"SSP3-7.0","g":"Upper-middle","b":3,"v":-46.5},
    {"s":"SSP3-7.0","g":"Upper-middle","b":3,"v":-48.8},
    {"s":"SSP3-7.0","g":"Upper-middle","b":3,"v":-55.7},
    {"s":"SSP3-7.0","g":"Upper-middle","b":3,"v":-61.5},
    {"s":"SSP3-7.0","g":"Upper-middle","b":3,"v":-65.4},
    {"s":"SSP3-7.0","g":"Upper-middle","b":3,"v":-67},
    {"s":"SSP3-7.0","g":"Upper-middle","b":3,"v":-69.9},
    {"s":"SSP3-7.0","g":"Upper-middle","b":3,"v":-69.6},
    {"s":"SSP3-7.0","g":"Upper-middle","b":3,"v":-70.2},
    {"s":"SSP3-7.0","g":"Upper-middle","b":3,"v":-71.6},
    {"s":"SSP3-7.0","g":"Upper-middle","b":3,"v":-71.9},
    {"s":"SSP3-7.0","g":"Upper-middle","b":3,"v":-73.4},
    {"s":"SSP3-7.0","g":"Upper-middle","b":3,"v":-74.6},
    {"s":"SSP3-7.0","g":"Upper-middle","b":3,"v":-73.7},
    {"s":"SSP3-7.0","g":"Upper-middle","b":3,"v":-75.3},
    {"s":"SSP3-7.0","g":"Upper-middle","b":3,"v":-76.8},
    {"s":"SSP3-7.0","g":"Upper-middle","b":3,"v":-76.1},
    {"s":"SSP3-7.0","g":"Upper-middle","b":3,"v":-77.1},
    {"s":"SSP3-7.0","g":"Upper-middle","b":3,"v":-80.2},
    {"s":"SSP3-7.0","g":"Upper-middle","b":3,"v":-81.3},
    {"s":"SSP3-7.0","g":"Upper-middle","b":3,"v":-80.8},
    {"s":"SSP3-7.0","g":"Upper-middle","b":3,"v":-82},
    {"s":"SSP3-7.0","g":"Upper-middle","b":3,"v":-82.2},
    {"s":"SSP3-7.0","g":"Upper-middle","b":3,"v":-83.5},
    {"s":"SSP3-7.0","g":"Upper-middle","b":3,"v":-82.8},
    {"s":"SSP3-7.0","g":"Upper-middle","b":3,"v":-84.9},
    {"s":"SSP3-7.0","g":"Upper-middle","b":3,"v":-86.4},
    {"s":"SSP3-7.0","g":"Upper-middle","b":3,"v":-85.7},
    {"s":"SSP3-7.0","g":"Upper-middle","b":3,"v":-89.4},
    {"s":"SSP3-7.0","g":"Upper-middle","b":3,"v":-89.7},
    {"s":"SSP3-7.0","g":"Upper-middle","b":3,"v":-89.1},
    {"s":"SSP3-7.0","g":"Upper-middle","b":3,"v":-90.9},
    {"s":"SSP3-7.0","g":"Upper-middle","b":3,"v":-91.6},
    {"s":"SSP3-7.0","g":"Upper-middle","b":3,"v":-92.3},
    {"s":"SSP3-7.0","g":"Upper-middle","b":3,"v":-93.1},
    {"s":"SSP3-7.0","g":"Upper-middle","b":3,"v":-93.5},
    {"s":"SSP3-7.0","g":"Upper-middle","b":3,"v":-96},
    {"s":"SSP3-7.0","g":"Low","b":1,"v":-32},
    {"s":"SSP3-7.0","g":"Low","b":1,"v":-41.4},
    {"s":"SSP3-7.0","g":"Low","b":3,"v":-57.2},
    {"s":"SSP3-7.0","g":"Low","b":4,"v":-66},
    {"s":"SSP3-7.0","g":"Low","b":4,"v":-69.6},
    {"s":"SSP3-7.0","g":"Low","b":4,"v":-69.9},
    {"s":"SSP3-7.0","g":"Low","b":4,"v":-72.4},
    {"s":"SSP3-7.0","g":"Low","b":4,"v":-74.6},
    {"s":"SSP3-7.0","g":"Low","b":4,"v":-76},
    {"s":"SSP3-7.0","g":"Low","b":4,"v":-80.8},
    {"s":"SSP3-7.0","g":"Low","b":4,"v":-80.2},
    {"s":"SSP3-7.0","g":"Low","b":4,"v":-82},
    {"s":"SSP3-7.0","g":"Low","b":4,"v":-83.5},
    {"s":"SSP3-7.0","g":"Low","b":4,"v":-85.6},
    {"s":"SSP3-7.0","g":"Low","b":4,"v":-85.3},
    {"s":"SSP3-7.0","g":"Low","b":4,"v":-85.9},
    {"s":"SSP3-7.0","g":"Low","b":5,"v":-88.6},
    {"s":"SSP3-7.0","g":"Low","b":5,"v":-88.2},
    {"s":"SSP3-7.0","g":"Low","b":5,"v":-90},
    {"s":"SSP3-7.0","g":"Low","b":5,"v":-94.2},
    {"s":"SSP3-7.0","g":"Low","b":5,"v":-94.5},
    {"s":"SSP3-7.0","g":"Low","b":5,"v":-94},
    {"s":"SSP3-7.0","g":"Low","b":5,"v":-94.8},
    {"s":"SSP3-7.0","g":"Low","b":2,"v":-96.5},
    {"s":"SSP3-7.0","g":"Low","b":2,"v":-97.8},

    {"s":"SSP5-8.5","g":"High","b":1,"v":98.2,"c":"Qatar","lx":0.32,"lv":110.4},
    {"s":"SSP5-8.5","g":"High","b":3,"v":21.6,"c":"Luxembourg","lx":0.32,"lv":63.1},
    {"s":"SSP5-8.5","g":"High","b":3,"v":0},
    {"s":"SSP5-8.5","g":"High","b":4,"v":-13.6},
    {"s":"SSP5-8.5","g":"High","b":4,"v":-25.2},
    {"s":"SSP5-8.5","g":"High","b":4,"v":-25.5},
    {"s":"SSP5-8.5","g":"High","b":5,"v":-28},
    {"s":"SSP5-8.5","g":"High","b":5,"v":-35.9},
    {"s":"SSP5-8.5","g":"High","b":6,"v":-39.9},
    {"s":"SSP5-8.5","g":"High","b":6,"v":-40.5},
    {"s":"SSP5-8.5","g":"High","b":6,"v":-41},
    {"s":"SSP5-8.5","g":"High","b":6,"v":-41.2},
    {"s":"SSP5-8.5","g":"High","b":6,"v":-40.7},
    {"s":"SSP5-8.5","g":"High","b":6,"v":-40},
    {"s":"SSP5-8.5","g":"High","b":6,"v":-42},
    {"s":"SSP5-8.5","g":"High","b":6,"v":-42.5},
    {"s":"SSP5-8.5","g":"High","b":6,"v":-44},
    {"s":"SSP5-8.5","g":"High","b":6,"v":-43.5},
    {"s":"SSP5-8.5","g":"High","b":6,"v":-46},
    {"s":"SSP5-8.5","g":"High","b":6,"v":-49},
    {"s":"SSP5-8.5","g":"High","b":6,"v":-48.8},
    {"s":"SSP5-8.5","g":"High","b":6,"v":-49.5},
    {"s":"SSP5-8.5","g":"High","b":6,"v":-52},
    {"s":"SSP5-8.5","g":"High","b":6,"v":-53.5},
    {"s":"SSP5-8.5","g":"High","b":6,"v":-52.5},
    {"s":"SSP5-8.5","g":"High","b":6,"v":-55},
    {"s":"SSP5-8.5","g":"High","b":6,"v":-55.5},
    {"s":"SSP5-8.5","g":"High","b":6,"v":-55.8},
    {"s":"SSP5-8.5","g":"High","b":6,"v":-57.2},
    {"s":"SSP5-8.5","g":"High","b":7,"v":-61.6},
    {"s":"SSP5-8.5","g":"High","b":7,"v":-60.1},
    {"s":"SSP5-8.5","g":"High","b":7,"v":-64},
    {"s":"SSP5-8.5","g":"High","b":7,"v":-64.3},
    {"s":"SSP5-8.5","g":"High","b":7,"v":-65.1},
    {"s":"SSP5-8.5","g":"High","b":7,"v":-66.5},
    {"s":"SSP5-8.5","g":"High","b":7,"v":-67.2},
    {"s":"SSP5-8.5","g":"High","b":7,"v":-69.4},
    {"s":"SSP5-8.5","g":"High","b":7,"v":-70.2},
    {"s":"SSP5-8.5","g":"High","b":7,"v":-72},
    {"s":"SSP5-8.5","g":"High","b":7,"v":-74.4},
    {"s":"SSP5-8.5","g":"High","b":7,"v":-78.3},
    {"s":"SSP5-8.5","g":"High","b":7,"v":-80},
    {"s":"SSP5-8.5","g":"Lower-middle","b":1,"v":46,"c":"Moldova","lx":1.86,"lv":32.4},
    {"s":"SSP5-8.5","g":"Lower-middle","b":1,"v":28,"c":"Georgia","lx":1.64,"lv":8.1},
    {"s":"SSP5-8.5","g":"Lower-middle","b":3,"v":-14.5},
    {"s":"SSP5-8.5","g":"Lower-middle","b":3,"v":-19.2},
    {"s":"SSP5-8.5","g":"Lower-middle","b":3,"v":-25.8},
    {"s":"SSP5-8.5","g":"Lower-middle","b":3,"v":-26},
    {"s":"SSP5-8.5","g":"Lower-middle","b":3,"v":-36.5},
    {"s":"SSP5-8.5","g":"Lower-middle","b":4,"v":-41.4},
    {"s":"SSP5-8.5","g":"Lower-middle","b":4,"v":-42.5},
    {"s":"SSP5-8.5","g":"Lower-middle","b":4,"v":-43.5},
    {"s":"SSP5-8.5","g":"Lower-middle","b":4,"v":-43.9},
    {"s":"SSP5-8.5","g":"Lower-middle","b":5,"v":-47.7},
    {"s":"SSP5-8.5","g":"Lower-middle","b":6,"v":-57.6},
    {"s":"SSP5-8.5","g":"Lower-middle","b":6,"v":-57.9},
    {"s":"SSP5-8.5","g":"Lower-middle","b":7,"v":-62.3},
    {"s":"SSP5-8.5","g":"Lower-middle","b":7,"v":-62.5},
    {"s":"SSP5-8.5","g":"Lower-middle","b":7,"v":-63},
    {"s":"SSP5-8.5","g":"Lower-middle","b":7,"v":-62.8},
    {"s":"SSP5-8.5","g":"Lower-middle","b":7,"v":-64.5},
    {"s":"SSP5-8.5","g":"Lower-middle","b":7,"v":-64.7},
    {"s":"SSP5-8.5","g":"Lower-middle","b":8,"v":-69},
    {"s":"SSP5-8.5","g":"Lower-middle","b":8,"v":-69.5},
    {"s":"SSP5-8.5","g":"Lower-middle","b":8,"v":-70},
    {"s":"SSP5-8.5","g":"Lower-middle","b":8,"v":-70.5},
    {"s":"SSP5-8.5","g":"Lower-middle","b":8,"v":-70.7},
    {"s":"SSP5-8.5","g":"Lower-middle","b":9,"v":-73.5},
    {"s":"SSP5-8.5","g":"Lower-middle","b":9,"v":-74.5},
    {"s":"SSP5-8.5","g":"Lower-middle","b":9,"v":-76},
    {"s":"SSP5-8.5","g":"Lower-middle","b":9,"v":-75.3},
    {"s":"SSP5-8.5","g":"Lower-middle","b":9,"v":-73.8},
    {"s":"SSP5-8.5","g":"Lower-middle","b":9,"v":-77.5},
    {"s":"SSP5-8.5","g":"Lower-middle","b":9,"v":-78.5},
    {"s":"SSP5-8.5","g":"Lower-middle","b":9,"v":-81.3},
    {"s":"SSP5-8.5","g":"Lower-middle","b":9,"v":-82.5},
    {"s":"SSP5-8.5","g":"Lower-middle","b":9,"v":-82},
    {"s":"SSP5-8.5","g":"Lower-middle","b":9,"v":-82.3},
    {"s":"SSP5-8.5","g":"Lower-middle","b":9,"v":-84},
    {"s":"SSP5-8.5","g":"Lower-middle","b":9,"v":-84.2},
    {"s":"SSP5-8.5","g":"Lower-middle","b":9,"v":-85.5},
    {"s":"SSP5-8.5","g":"Lower-middle","b":9,"v":-86.5},
    {"s":"SSP5-8.5","g":"Lower-middle","b":9,"v":-89.6},
    {"s":"SSP5-8.5","g":"Lower-middle","b":9,"v":-91.8},
    {"s":"SSP5-8.5","g":"Upper-middle","b":1,"v":-44.8},
    {"s":"SSP5-8.5","g":"Upper-middle","b":1,"v":-46},
    {"s":"SSP5-8.5","g":"Upper-middle","b":1,"v":-46.5},
    {"s":"SSP5-8.5","g":"Upper-middle","b":2,"v":-51.1},
    {"s":"SSP5-8.5","g":"Upper-middle","b":2,"v":-51.5},
    {"s":"SSP5-8.5","g":"Upper-middle","b":2,"v":-52},
    {"s":"SSP5-8.5","g":"Upper-middle","b":3,"v":-62},
    {"s":"SSP5-8.5","g":"Upper-middle","b":3,"v":-64.5},
    {"s":"SSP5-8.5","g":"Upper-middle","b":3,"v":-63.9},
    {"s":"SSP5-8.5","g":"Upper-middle","b":3,"v":-63},
    {"s":"SSP5-8.5","g":"Upper-middle","b":4,"v":-66.5},
    {"s":"SSP5-8.5","g":"Upper-middle","b":5,"v":-71.9},
    {"s":"SSP5-8.5","g":"Upper-middle","b":5,"v":-74},
    {"s":"SSP5-8.5","g":"Upper-middle","b":6,"v":-80.8},
    {"s":"SSP5-8.5","g":"Upper-middle","b":6,"v":-80.5},
    {"s":"SSP5-8.5","g":"Upper-middle","b":6,"v":-81.1},
    {"s":"SSP5-8.5","g":"Upper-middle","b":6,"v":-82},
    {"s":"SSP5-8.5","g":"Upper-middle","b":7,"v":-82.7},
    {"s":"SSP5-8.5","g":"Upper-middle","b":7,"v":-83.5},
    {"s":"SSP5-8.5","g":"Upper-middle","b":7,"v":-83.2},
    {"s":"SSP5-8.5","g":"Upper-middle","b":7,"v":-84.9},
    {"s":"SSP5-8.5","g":"Upper-middle","b":7,"v":-85.1},
    {"s":"SSP5-8.5","g":"Upper-middle","b":7,"v":-86.7},
    {"s":"SSP5-8.5","g":"Upper-middle","b":7,"v":-87.2},
    {"s":"SSP5-8.5","g":"Upper-middle","b":7,"v":-86.2},
    {"s":"SSP5-8.5","g":"Upper-middle","b":8,"v":-89.1},
    {"s":"SSP5-8.5","g":"Upper-middle","b":8,"v":-89.4},
    {"s":"SSP5-8.5","g":"Upper-middle","b":8,"v":-89.7},
    {"s":"SSP5-8.5","g":"Upper-middle","b":8,"v":-90.9},
    {"s":"SSP5-8.5","g":"Upper-middle","b":8,"v":-91.6},
    {"s":"SSP5-8.5","g":"Upper-middle","b":8,"v":-91.4},
    {"s":"SSP5-8.5","g":"Upper-middle","b":8,"v":-92.1},
    {"s":"SSP5-8.5","g":"Upper-middle","b":9,"v":-93.5},
    {"s":"SSP5-8.5","g":"Upper-middle","b":9,"v":-93.7},
    {"s":"SSP5-8.5","g":"Upper-middle","b":9,"v":-94.1},
    {"s":"SSP5-8.5","g":"Upper-middle","b":9,"v":-93.8},
    {"s":"SSP5-8.5","g":"Upper-middle","b":9,"v":-93.3},
    {"s":"SSP5-8.5","g":"Upper-middle","b":9,"v":-95.3},
    {"s":"SSP5-8.5","g":"Upper-middle","b":9,"v":-96},
    {"s":"SSP5-8.5","g":"Upper-middle","b":9,"v":-95.5},
    {"s":"SSP5-8.5","g":"Upper-middle","b":9,"v":-96.2},
    {"s":"SSP5-8.5","g":"Upper-middle","b":9,"v":-97.5},
    {"s":"SSP5-8.5","g":"Upper-middle","b":9,"v":-97.9},
    {"s":"SSP5-8.5","g":"Upper-middle","b":9,"v":-97.3},
    {"s":"SSP5-8.5","g":"Upper-middle","b":9,"v":-98.2},
    {"s":"SSP5-8.5","g":"Upper-middle","b":9,"v":-97},
    {"s":"SSP5-8.5","g":"Upper-middle","b":9,"v":-99},
    {"s":"SSP5-8.5","g":"Low","b":1,"v":-90.1},
    {"s":"SSP5-8.5","g":"Low","b":1,"v":-90.2},
    {"s":"SSP5-8.5","g":"Low","b":1,"v":-90.3},
    {"s":"SSP5-8.5","g":"Low","b":1,"v":-90},
    {"s":"SSP5-8.5","g":"Low","b":3,"v":-92.5},
    {"s":"SSP5-8.5","g":"Low","b":3,"v":-93},
    {"s":"SSP5-8.5","g":"Low","b":3,"v":-93.5},
    {"s":"SSP5-8.5","g":"Low","b":4,"v":-94},
    {"s":"SSP5-8.5","g":"Low","b":4,"v":-95},
    {"s":"SSP5-8.5","g":"Low","b":4,"v":-95.2},
    {"s":"SSP5-8.5","g":"Low","b":4,"v":-94.8},
    {"s":"SSP5-8.5","g":"Low","b":4,"v":-95.3},
    {"s":"SSP5-8.5","g":"Low","b":4,"v":-94.5},
    {"s":"SSP5-8.5","g":"Low","b":4,"v":-94.2},
    {"s":"SSP5-8.5","g":"Low","b":5,"v":-96.5},
    {"s":"SSP5-8.5","g":"Low","b":5,"v":-97},
    {"s":"SSP5-8.5","g":"Low","b":5,"v":-97.2},
    {"s":"SSP5-8.5","g":"Low","b":6,"v":-97.5},
    {"s":"SSP5-8.5","g":"Low","b":6,"v":-97.7},
    {"s":"SSP5-8.5","g":"Low","b":6,"v":-97.8},
    {"s":"SSP5-8.5","g":"Low","b":6,"v":-98.2},
    {"s":"SSP5-8.5","g":"Low","b":6,"v":-98.4},
    {"s":"SSP5-8.5","g":"Low","b":6,"v":-99},
    {"s":"SSP5-8.5","g":"Low","b":6,"v":-99.1},
    {"s":"SSP5-8.5","g":"Low","b":6,"v":-99.2},
    {"s":"SSP5-8.5","g":"Low","b":6,"v":-98.8},
    {"s":"SSP5-8.5","g":"Low","b":6,"v":-98.9}
  ]},
  "transform": [
    {"joinaggregate": [{"op": "max", "field": "n", "as": "bn"}], "groupby": ["s", "g", "b"]},
    {"calculate": "indexof(['High','Lower-middle','Upper-middle','Low'], datum.g)", "as": "gi"}
  ],
  "facet": {
    "column": {
      "field": "s", "type": "nominal", "title": null,
      "sort": ["SSP1-2.6", "SSP2-4.5", "SSP3-7.0", "SSP5-8.5"],
      "header": {"labelAnchor": "start", "labelFontSize": 14, "labelFontWeight": 500, "labelColor": "#1a1a1a", "labelPadding": 3, "labelFont": "Roboto"}
    }
  },
  "spacing": 18,
  "spec": {
    "width": 220,
    "height": 331,
    "layer": [
      {
        "mark": {"type": "rule", "color": "#555555", "strokeWidth": 1.3},
        "encoding": {"x": {"datum": -0.19, "type": "quantitative"}}
      },
      {
        "transform": [{"filter": "isValid(datum.lo)"}, {"calculate": "datum.gi + datum.n", "as": "x1"}],
        "mark": {"type": "rect", "fillOpacity": 0.78, "strokeWidth": 0.8, "strokeOpacity": 0.4},
        "encoding": {
          "x": {
            "field": "gi", "type": "quantitative", "title": null,
            "scale": {"domain": [-0.19, 8.27], "nice": false, "zero": false},
            "axis": {
              "values": [0, 1, 2, 3],
              "labelExpr": "['High','Lower-middle','Upper-middle','Low'][datum.value]",
              "labelAngle": 45, "labelAlign": "left", "labelBaseline": "top",
              "labelFlush": false, "labelOverlap": false, "labelBound": false,
              "grid": false, "domainColor": "#555555", "domainWidth": 1.3,
              "tickColor": "#555555", "tickSize": 5,
              "labelFontSize": 12.5, "labelColor": "#333333", "labelPadding": 2
            }
          },
          "x2": {"field": "x1"},
          "y": {
            "field": "lo", "type": "quantitative", "title": "Change rate of supply-demand ratio (%)",
            "scale": {"domain": [-100, 0, 143], "range": [331, 106, 0], "nice": false, "zero": false},
            "axis": {
              "values": [-100, -80, -60, -40, -20, 0, 50, 100],
              "grid": true,
              "gridDash": {"condition": {"test": "datum.value === 0", "value": []}, "value": [4, 4]},
              "gridColor": {"condition": {"test": "datum.value === 0", "value": "#c8d2d2"}, "value": "#dde4e4"},
              "labelFlush": false,
              "domainColor": "#555555", "domainWidth": 1.3,
              "tickColor": "#555555", "tickSize": 5,
              "labelFontSize": 12.5, "labelColor": "#333333", "labelPadding": 1,
              "titleFontSize": 12.5, "titleFontWeight": "normal", "titleColor": "#222222", "titlePadding": 0
            }
          },
          "y2": {"field": "hi"},
          "fill": {
            "field": "g", "type": "nominal", "legend": null,
            "scale": {"domain": ["High", "Lower-middle", "Upper-middle", "Low"], "range": ["#229089", "#4a86c8", "#f5c33b", "#e66d68"]}
          },
          "stroke": {
            "field": "g", "type": "nominal", "legend": null,
            "scale": {"domain": ["High", "Lower-middle", "Upper-middle", "Low"], "range": ["#0d6f68", "#3469aa", "#e3ad2c", "#d24c45"]}
          }
        }
      },
      {
        "transform": [
          {"filter": "isValid(datum.v)"},
          {"window": [{"op": "row_number", "as": "rn"}], "groupby": ["s", "g", "b"]},
          {"calculate": "datum.gi + (0.08 + 0.84 * ((datum.rn * 0.618034 + 0.3) % 1)) * min(datum.bn, datum.g === 'Low' ? 5 : 0.95)", "as": "px"}
        ],
        "layer": [
          {
            "transform": [{"filter": "isValid(datum.c)"}],
            "mark": {"type": "rule", "strokeWidth": 1},
            "encoding": {
              "x": {"field": "px", "type": "quantitative", "title": null},
              "y": {"field": "v", "type": "quantitative", "title": "Change rate of supply-demand ratio (%)"},
              "x2": {"field": "lx"},
              "y2": {"field": "lv"},
              "color": {"condition": [{"test": "datum.g === 'Lower-middle'", "value": "#5b8dc4"}, {"test": "datum.g === 'Upper-middle'", "value": "#efc24f"}], "value": "#83b2ae"}
            }
          },
          {
            "mark": {"type": "circle", "size": 7, "opacity": 1},
            "encoding": {
              "x": {"field": "px", "type": "quantitative", "title": null},
              "y": {"field": "v", "type": "quantitative", "title": "Change rate of supply-demand ratio (%)"},
              "color": {
                "field": "g", "type": "nominal", "legend": null,
                "scale": {"domain": ["High", "Lower-middle", "Upper-middle", "Low"], "range": ["#17625d", "#1d59a0", "#e08c16", "#cc3a33"]}
              }
            }
          },
          {
            "transform": [{"filter": "isValid(datum.c)"}],
            "mark": {"type": "text", "align": "left", "baseline": "middle", "dx": 2, "fontSize": 12.5},
            "encoding": {
              "x": {"field": "lx", "type": "quantitative", "title": null},
              "y": {"field": "lv", "type": "quantitative", "title": "Change rate of supply-demand ratio (%)"},
              "text": {"field": "c"},
              "color": {"condition": [{"test": "datum.g === 'Lower-middle'", "value": "#5b8dc4"}, {"test": "datum.g === 'Upper-middle'", "value": "#efc24f"}], "value": "#83b2ae"}
            }
          }
        ]
      }
    ]
  }
}
